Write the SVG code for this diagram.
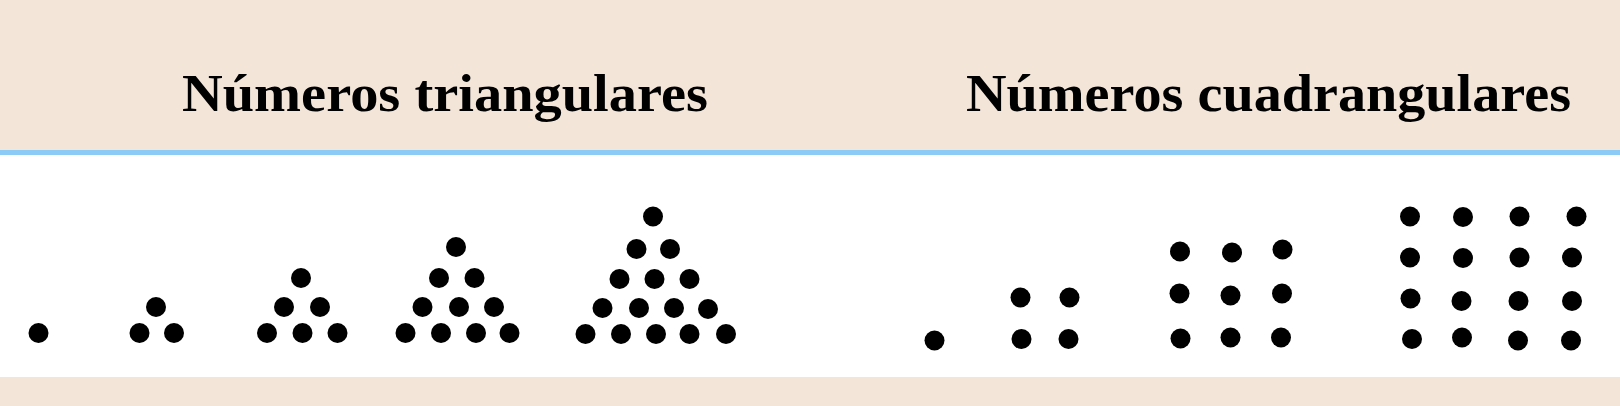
<svg xmlns="http://www.w3.org/2000/svg" width="1620" height="406" viewBox="0 0 1620 406">
<style>
.band{fill:#F3E6D9}
.rule{fill:#8DCBF7}
.title{font-family:"Liberation Serif","Times New Roman",serif;font-weight:bold;font-size:53px;fill:#000}
.dot{fill:#000}
</style>
<rect x="0" y="0" width="1620" height="406" fill="#FFFFFF"/>
<rect class="band" x="0" y="0" width="1620" height="150"/>
<rect class="rule" x="0" y="150" width="1620" height="5"/>
<rect class="band" x="0" y="377" width="1620" height="29"/>
<g id="title-triangulares">
<text class="title" x="182" y="110.5" textLength="526" lengthAdjust="spacingAndGlyphs">Números triangulares</text>
</g>
<g id="title-cuadrangulares">
<text class="title" x="966" y="110.5" textLength="605" lengthAdjust="spacingAndGlyphs">Números cuadrangulares</text>
</g>
<g id="tri-1">
<circle class="dot" cx="38.5" cy="333" r="10"/>
</g>
<g id="tri-3">
<circle class="dot" cx="156" cy="307" r="10"/>
<circle class="dot" cx="139.5" cy="333" r="10"/>
<circle class="dot" cx="174" cy="333" r="10"/>
</g>
<g id="tri-6">
<circle class="dot" cx="301" cy="278" r="10"/>
<circle class="dot" cx="284" cy="307" r="10"/>
<circle class="dot" cx="320" cy="307" r="10"/>
<circle class="dot" cx="267" cy="333" r="10"/>
<circle class="dot" cx="302.5" cy="333" r="10"/>
<circle class="dot" cx="337.5" cy="333" r="10"/>
</g>
<g id="tri-10">
<circle class="dot" cx="456" cy="247" r="10"/>
<circle class="dot" cx="439" cy="278" r="10"/>
<circle class="dot" cx="474.5" cy="278" r="10"/>
<circle class="dot" cx="422.5" cy="307" r="10"/>
<circle class="dot" cx="459" cy="307" r="10"/>
<circle class="dot" cx="494" cy="307" r="10"/>
<circle class="dot" cx="405.5" cy="333" r="10"/>
<circle class="dot" cx="441" cy="333" r="10"/>
<circle class="dot" cx="476" cy="333" r="10"/>
<circle class="dot" cx="509.5" cy="333" r="10"/>
</g>
<g id="tri-15">
<circle class="dot" cx="653" cy="216.5" r="10"/>
<circle class="dot" cx="636.5" cy="249" r="10"/>
<circle class="dot" cx="670" cy="249" r="10"/>
<circle class="dot" cx="619.5" cy="279" r="10"/>
<circle class="dot" cx="654.5" cy="279" r="10"/>
<circle class="dot" cx="689.5" cy="279" r="10"/>
<circle class="dot" cx="602.5" cy="308" r="10"/>
<circle class="dot" cx="639" cy="308" r="10"/>
<circle class="dot" cx="674" cy="308" r="10"/>
<circle class="dot" cx="708" cy="309" r="10"/>
<circle class="dot" cx="585.5" cy="334" r="10"/>
<circle class="dot" cx="621" cy="334" r="10"/>
<circle class="dot" cx="656" cy="334" r="10"/>
<circle class="dot" cx="689.5" cy="334" r="10"/>
<circle class="dot" cx="726" cy="334" r="10"/>
</g>
<g id="sq-1">
<circle class="dot" cx="934.5" cy="340.5" r="10"/>
</g>
<g id="sq-4">
<circle class="dot" cx="1020.5" cy="297.5" r="10"/>
<circle class="dot" cx="1069.5" cy="297.5" r="10"/>
<circle class="dot" cx="1021.5" cy="339" r="10"/>
<circle class="dot" cx="1068.5" cy="339" r="10"/>
</g>
<g id="sq-9">
<circle class="dot" cx="1180" cy="251.5" r="10"/>
<circle class="dot" cx="1232" cy="252.5" r="10"/>
<circle class="dot" cx="1282.5" cy="249.5" r="10"/>
<circle class="dot" cx="1179.5" cy="293.5" r="10"/>
<circle class="dot" cx="1230.5" cy="295.5" r="10"/>
<circle class="dot" cx="1282" cy="293.5" r="10"/>
<circle class="dot" cx="1180.5" cy="338.5" r="10"/>
<circle class="dot" cx="1230.5" cy="337.5" r="10"/>
<circle class="dot" cx="1281" cy="337.5" r="10"/>
</g>
<g id="sq-16">
<circle class="dot" cx="1410" cy="216.5" r="10"/>
<circle class="dot" cx="1463" cy="217" r="10"/>
<circle class="dot" cx="1519.5" cy="216.5" r="10"/>
<circle class="dot" cx="1576.5" cy="216.5" r="10"/>
<circle class="dot" cx="1410" cy="257.5" r="10"/>
<circle class="dot" cx="1463" cy="258" r="10"/>
<circle class="dot" cx="1519.5" cy="257.5" r="10"/>
<circle class="dot" cx="1572" cy="257.5" r="10"/>
<circle class="dot" cx="1410.5" cy="298.5" r="10"/>
<circle class="dot" cx="1461.5" cy="301" r="10"/>
<circle class="dot" cx="1518.5" cy="301" r="10"/>
<circle class="dot" cx="1572" cy="301" r="10"/>
<circle class="dot" cx="1412" cy="339" r="10"/>
<circle class="dot" cx="1462" cy="337.5" r="10"/>
<circle class="dot" cx="1518" cy="340.5" r="10"/>
<circle class="dot" cx="1571" cy="340.5" r="10"/>
</g>
</svg>
